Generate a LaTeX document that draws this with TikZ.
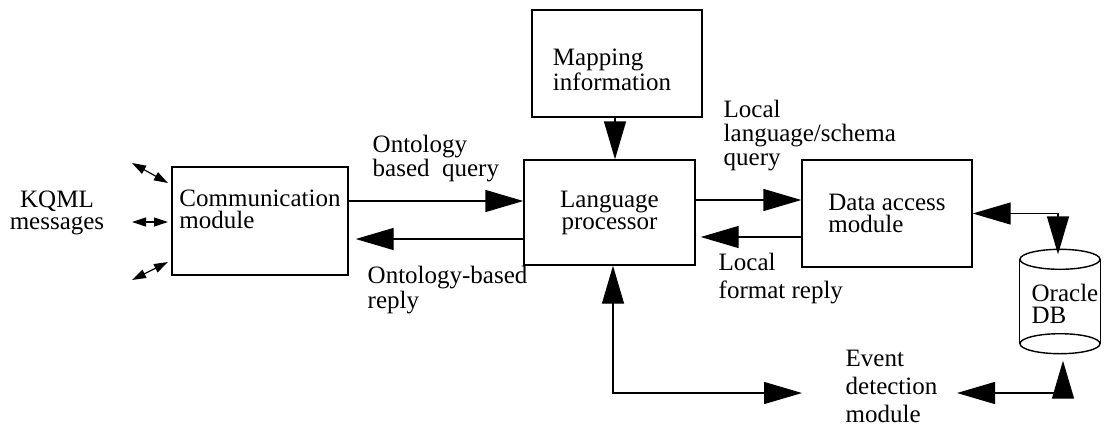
\documentclass[tikz,border=0pt]{standalone}
\usepackage{fontspec}
\setmainfont{Liberation Serif}
\usetikzlibrary{arrows.meta}

\begin{document}
\begin{tikzpicture}
		[
		x=0.5pt, y=-0.5pt, line width=0.7pt, font=\fontsize{12.5}{11}\selectfont,
		>={Triangle[length=19pt, width=11pt]},
		%Voreinstellung für Kästen und Beschriftungen
		box/.style={draw, rectangle, inner sep=0pt},
		lbl/.style={align=left, inner sep=0pt, anchor=west},
		tiny/.style={<->, >={Triangle[length=7pt, width=4.5pt]}, line width=0.6pt}
		]
		
		\useasboundingbox (0,0) rectangle (1105,430);
		
		%Kästen
		\node[box, minimum width=88pt, minimum height=54pt,
			label={[name=commtxt, align=left, inner sep=0pt, yshift=6pt]center:Communication\\module}] (comm) at (260,221) {};
		\node[box, minimum width=85pt, minimum height=53.5pt,
			label={[name=maptxt, align=left, inner sep=0pt, xshift=-2.5pt, yshift=-3pt]center:Mapping\\information}] (map) at (617,63.5) {};
		\node[box, align=center, minimum width=85.5pt, minimum height=52.5pt] (lang) at (609.5,212.5) {Language\\processor};
		\node[box, align=left, minimum width=85pt, minimum height=53.5pt] (data) at (887,213.5) {Data access\\module};
		\node[lbl, font=\fontsize{12.5}{14}\selectfont] (event) at (845,386.5) {Event\\detection\\module};
		
		%Datenbank
		\node[inner sep=0pt, align=left, minimum width=40pt, minimum height=51.5pt,
			label={[name=dbtxt, align=left, inner sep=0pt, xshift=2.5pt, yshift=-1pt]center:Oracle\\DB}] (db) at (1060,301.5) {};
		\draw ([yshift=-5pt]db.north west) -- ([yshift=5pt]db.south west);
		\draw ([yshift=-5pt]db.north east) -- ([yshift=5pt]db.south east);
		\draw ([yshift=-5pt]db.north) ellipse [x radius=20pt, y radius=5pt];
		\draw ([yshift=5pt]db.south) ellipse [x radius=20pt, y radius=5pt];
		
		%KQML Nachrichten
		\node[align=center, inner sep=0pt] (kqml) at (57,212.5) {KQML\\messages};
		\coordinate (k1a) at (132,163); \coordinate (k1b) at (168,183);
		\coordinate (k2a) at (132,222); \coordinate (k2b) at (168,222);
		\coordinate (k3a) at (132,280); \coordinate (k3b) at (168,262);
		\draw[tiny] (k1a) -- (k1b);
		\draw[tiny] (k2a) -- (k2b);
		\draw[tiny] (k3a) -- (k3b);
		
		%Anfrage und Antwort
		\draw[->] (comm.east |- 0,201) -- (lang.west |- 0,201);
		\draw[->, shorten >=3.5pt] (lang.west |- 0,239) -- (comm.east |- 0,239);
		\node[lbl] (qlbl) at (372,158.5) {Ontology\\based\ \ query};
		\node[lbl] (rlbl) at (367,290) {Ontology-based\\reply};
		
		\draw[->] (lang.east |- 0,200) -- (data.west |- 0,200);
		\draw[->, shorten >=2.5pt] (data.west |- 0,237) -- (lang.east |- 0,237);
		\node[lbl, font=\fontsize{12.5}{12}\selectfont] (lqlbl) at (723,136) {Local\\language/schema\\query};
		\node[lbl, font=\fontsize{12.5}{14}\selectfont] (lrlbl) at (718,279) {Local\\format reply};
		
		%Zuordnung
		\draw[->] (map.south -| 615,0) -- (lang.north -| 615,0);
		
		%Datenbankzugriff und Ereignisse
		\draw[<->, shorten >=-2.5pt] (data.east) -| ([xshift=-1pt]db.north);
		\draw[<->, shorten >=21.5pt] (lang.south -| 613,0) |- ([yshift=-3.25pt]event.west);
		\draw[<->, shorten <=9.5pt, shorten >=3.5pt] ([yshift=-3.25pt]event.east) -| ([xshift=1.5pt]db.south);
	\end{tikzpicture}
\end{document}
